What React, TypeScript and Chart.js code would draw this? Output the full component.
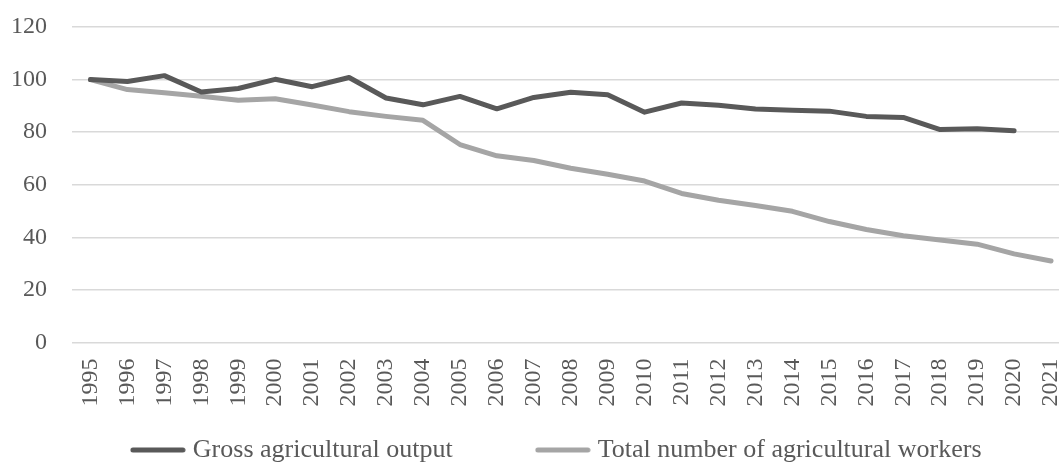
import React, { useEffect, useRef } from "react";
import { Chart, registerables } from "chart.js";

Chart.register(...registerables);

const years = [
  "1995", "1996", "1997", "1998", "1999", "2000", "2001", "2002", "2003", "2004",
  "2005", "2006", "2007", "2008", "2009", "2010", "2011", "2012", "2013", "2014",
  "2015", "2016", "2017", "2018", "2019", "2020", "2021",
];

const grossOutput = [
  100, 99.3, 101.5, 95.3, 96.6, 100.1, 97.3, 100.8, 93.0, 90.4,
  93.6, 88.9, 93.2, 95.2, 94.2, 87.6, 91.1, 90.2, 88.8, 88.3,
  88.0, 86.0, 85.6, 81.0, 81.3, 80.5, null,
];

const agriWorkers = [
  100, 96.2, 95.0, 93.7, 92.1, 92.7, 90.3, 87.8, 86.0, 84.5,
  75.3, 71.0, 69.2, 66.3, 64.0, 61.4, 56.7, 54.1, 52.1, 49.9,
  46.0, 43.0, 40.6, 39.0, 37.4, 33.7, 31.0,
];

const seriesLabels = ["Gross agricultural output", "Total number of agricultural workers"];
const seriesColors = ["#595959", "#A5A5A5"];
const yTicks = { min: 0, max: 120, step: 20 };

const FONT = "'Liberation Serif', 'Times New Roman', serif";
const TEXT = "#595959";

function legendLine(color: string) {
  const c = document.createElement("canvas");
  c.width = 56;
  c.height = 8;
  const ctx = c.getContext("2d")!;
  ctx.strokeStyle = color;
  ctx.lineWidth = 5;
  ctx.lineCap = "round";
  ctx.beginPath();
  ctx.moveTo(3, 4);
  ctx.lineTo(53, 4);
  ctx.stroke();
  return c;
}

export default function App() {
  const ref = useRef<HTMLCanvasElement | null>(null);

  useEffect(() => {
    if (!ref.current) return;
    const imgs = seriesColors.map(legendLine);
    const pads = [" ".repeat(12), " ".repeat(12)];
    const chart = new Chart(ref.current, {
      type: "line",
      data: {
        labels: years,
        datasets: [
          {
            label: seriesLabels[0],
            data: grossOutput,
            borderColor: seriesColors[0],
            backgroundColor: seriesColors[0],
            borderWidth: 5,
            pointRadius: 0,
            borderCapStyle: "round",
            borderJoinStyle: "round",
            spanGaps: false,
            tension: 0,
          },
          {
            label: seriesLabels[1],
            data: agriWorkers,
            borderColor: seriesColors[1],
            backgroundColor: seriesColors[1],
            borderWidth: 5,
            pointRadius: 0,
            borderCapStyle: "round",
            borderJoinStyle: "round",
            tension: 0,
          },
        ],
      },
      options: {
        responsive: false,
        animation: false,
        devicePixelRatio: 1,
        layout: { padding: { top: 27, left: 11, right: 2.5, bottom: 0 } },
        scales: {
          x: {
            type: "category",
            offset: true,
            grid: { display: false, drawTicks: false },
            border: { display: false },
            ticks: {
              autoSkip: false,
              maxRotation: 90,
              minRotation: 90,
              padding: 16,
              color: TEXT,
              font: { family: FONT, size: 24 },
            },
            afterFit: (scale: any) => {
              scale.height += 4.5;
              scale.paddingLeft = 0;
              scale.paddingRight = 0;
            },
          },
          y: {
            min: yTicks.min,
            max: yTicks.max,
            grid: { color: "#D9D9D9", lineWidth: 1.5, drawTicks: false },
            border: { display: false },
            ticks: {
              stepSize: yTicks.step,
              padding: 25,
              color: TEXT,
              font: { family: FONT, size: 24 },
            },
            afterFit: (scale: any) => {
              scale.width -= scale.options.ticks.padding;
              scale.paddingTop = 0;
              scale.paddingBottom = 0;
            },
          },
        },
        plugins: {
          tooltip: { enabled: false },
          legend: {
            position: "bottom",
            align: "end",
            labels: {
              usePointStyle: true,
              pointStyleWidth: 44,
              padding: 10,
              color: TEXT,
              font: { family: FONT, size: 26 },
              generateLabels: (ch: any) => {
                const items = (Chart as any).defaults.plugins.legend.labels.generateLabels(ch);
                return items.map((it: any, i: number) => ({
                  ...it,
                  text: it.text + pads[i],
                  pointStyle: imgs[i],
                }));
              },
            },
          },
        },
      },
    });
    return () => chart.destroy();
  }, []);

  return (
    <div
      style={{
        position: "absolute",
        left: 0,
        top: 0,
        width: 1059,
        height: 462,
        overflow: "hidden",
        background: "#fff",
      }}
    >
      <canvas ref={ref} width={1072} height={473} style={{ display: "block" }} />
    </div>
  );
}
